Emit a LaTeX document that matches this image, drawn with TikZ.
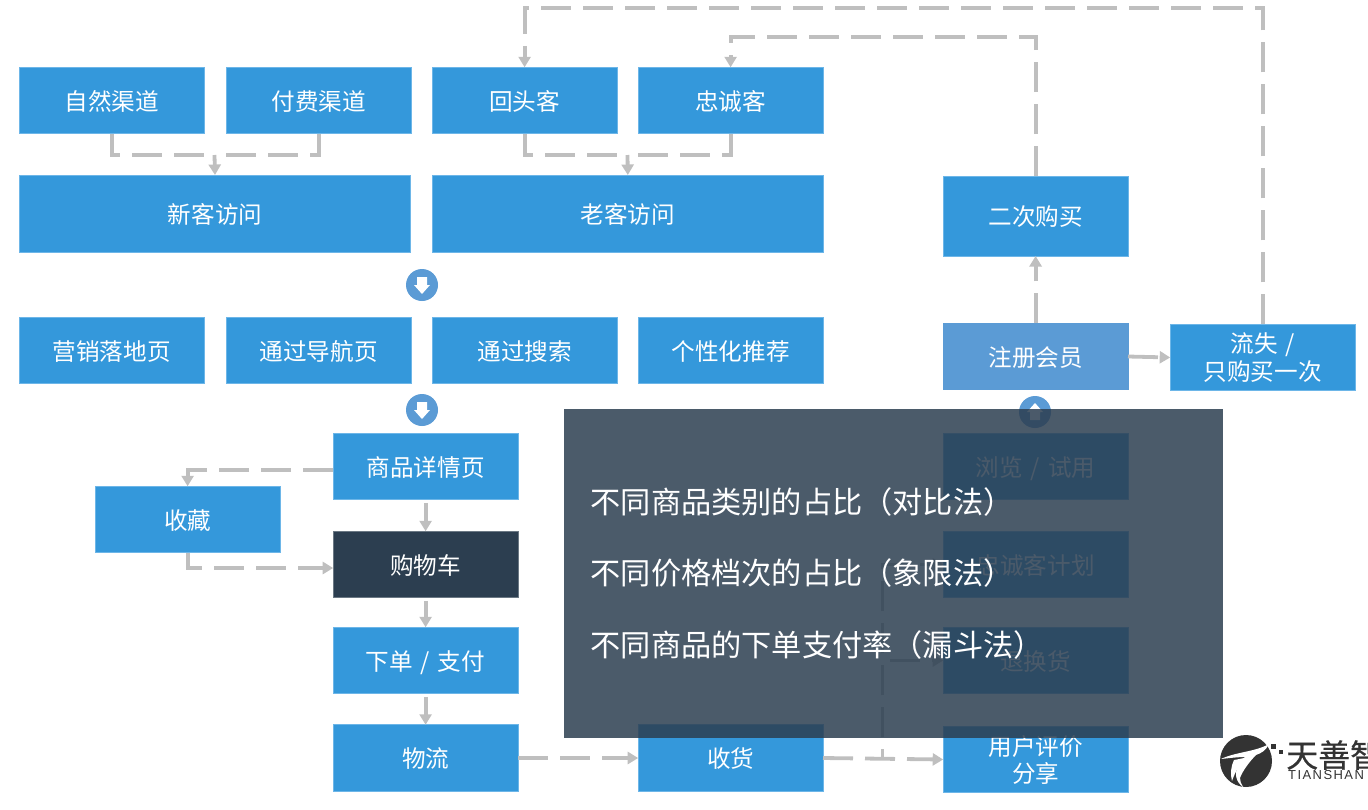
\documentclass[tikz,border=0pt]{standalone}
\usepackage{fontspec}
\setmainfont{Noto Sans CJK SC}
\newfontfamily\latinlogo[LetterSpace=11]{Liberation Sans}
\newfontfamily\logocjk[FakeBold=0.5]{Noto Sans CJK SC}
\usetikzlibrary{arrows.meta}
\definecolor{boxblue}{HTML}{3498DB}
\definecolor{boxedge}{HTML}{6DB6E8}
\definecolor{navy}{HTML}{2C3E50}
\definecolor{softblue}{HTML}{5B9BD5}
\definecolor{linegray}{HTML}{BFBFBF}
\definecolor{logoink}{HTML}{333333}
\tikzset{
  x=1pt,y=-1pt,
  box/.style={draw=boxedge,line width=.7pt,fill=boxblue,text=white,inner sep=0pt,outer sep=0pt,
    minimum width=184.8pt,minimum height=66.5pt,align=center,text height=22pt,text depth=2.2pt,
    font=\fontsize{23.6}{28}\selectfont},
  twolines/.style={text height=49pt,text depth=3pt},
  wide/.style={box,minimum width=391.5pt,minimum height=77pt},
  dark/.style={box,fill=navy,draw=navy!70},
  soft/.style={box,fill=softblue,draw=softblue},
  disc/.style={circle,fill=softblue,minimum size=32pt,inner sep=0pt,outer sep=0pt},
  veil/.style={fill=navy,fill opacity=.85,inner sep=0pt,outer sep=0pt,minimum width=659pt,minimum height=329pt},
  veiltext/.style={anchor=west,text=white,inner sep=0pt,font=\fontsize{30.2}{34}\selectfont},
  link/.style={draw=linegray,line width=3.8pt,dash pattern=on 30pt off 12pt,
    -{Triangle[length=10.5pt,width=12pt]}},
  plain link/.style={draw=linegray,line width=3.8pt,dash pattern=on 30pt off 12pt},
}
\newcommand{\sepslash}{\hspace{2.5pt} / \hspace{2.5pt}}
\begin{document}
\begin{tikzpicture}
\useasboundingbox (0,0) rectangle (1368,809);
\clip (0,0) rectangle (1368,809);

% row 1
\node[box] (zr) at (111.6,100.5) {自然渠道};
\node[box] (ff) at (318.6,100.5) {付费渠道};
\node[box] (ht) at (524.6,100.5) {回头客};
\node[box] (zc) at (730.6,100.5) {忠诚客};
% row 2
\node[wide] (xk) at (215,213.5) {新客访问};
\node[wide] (lk) at (627.8,213.5) {老客访问};
% row 3
\node[box] (yx) at (111.6,350.5) {营销落地页};
\node[box] (dh) at (318.6,350.5) {通过导航页};
\node[box] (ss) at (524.6,350.5) {通过搜索};
\node[box] (gx) at (730.6,350.5) {个性化推荐};
% central column
\node[box] (sp) at (425.6,466.5) {商品详情页};
\node[box] (sc) at (187.6,519.5) {收藏};
\node[dark] (gw) at (425.6,564.5) {购物车};
\node[box] (xd) at (425.6,660.5) {下单\sepslash 支付};
\node[box] (wl) at (425.6,758) {物流};
\node[box] (sh) at (730.6,758) {收货};
% right column
\node[box,twolines] (pj) at (1035.6,759.5) {用户评价\\[-1pt]分享};
\node[box] (th) at (1035.6,660.5) {退换货};
\node[box] (jh) at (1035.6,564.5) {忠诚客计划};
\node[box] (ll) at (1035.6,466.5) {浏览\sepslash 试用};
\node[soft] (zh) at (1035.6,356.5) {注册会员};
\node[box,minimum height=80pt] (ec) at (1035.6,216) {二次购买};
\node[box,twolines] (ls) at (1262.6,357.5) {流失\hspace{2.5pt} /\\只购买一次};

% discs
\node[disc] (d1) at (422,285) {};
\node[disc] (d2) at (422,410) {};
\node[disc] (d3) at (1035,412) {};
\fill[white] (417,277) -- (427,277) -- (427,285) -- (430,285) -- (422,294) -- (414,285) -- (417,285) -- cycle;
\fill[white] (417,402) -- (427,402) -- (427,410) -- (430,410) -- (422,419) -- (414,410) -- (417,410) -- cycle;
\fill[white] (1030,420) -- (1040,420) -- (1040,412) -- (1043,412) -- (1035,403) -- (1027,412) -- (1030,412) -- cycle;

% junctions and bends
\coordinate (m1) at (214.5,155);
\coordinate (m2) at (627.5,155);
\coordinate (top1) at (1262.5,8);
\coordinate (top2) at (1035.5,37);
\coordinate (fork) at (882.5,758);

\draw[plain link] (zr.south) |- (m1);
\draw[plain link] (ff.south) |- (m1);
\draw[link,solid] (m1) -- (xk.north);
\draw[plain link] (ht.south) |- (m2);
\draw[plain link] (zc.south) |- (m2);
\draw[link,solid] (m2) -- (lk.north);

\draw[link] (ls.north) |- (top1 -| ht.north) -- (ht.north);
\draw[link] (ec.north) |- (top2 -| zc.north) -- (zc.north);
\draw[link] (zh.north) -- (ec.south);
\draw[link] (zh.east) -- (ls.west);

\draw[link] ([yshift=-3.5pt]sp.west) -| (sc.north);
\draw[link] (sc.south) |- ([yshift=-3.5pt]gw.west);
\draw[link,solid,shorten <=3pt] (sp.south) -- (gw.north);
\draw[link,solid,shorten <=3pt] (gw.south) -- (xd.north);
\draw[link,solid,shorten <=3pt] (xd.south) -- (wl.north);
\draw[link] (wl.east) -- (sh.west);
\draw[link] (sh.east) -- (pj.west);
\draw[link,dash phase=21pt] (fork) |- (th.west);
\draw[link,dash phase=21pt] (fork) |- (jh.west);

% overlay panel
\node[veil] (panel) at (893.5,573.5) {};
\node[veiltext] (t1) at (590.5,502) {不同商品类别的占比（对比法）};
\node[veiltext] (t2) at (590.5,573) {不同价格档次的占比（象限法）};
\node[veiltext] (t3) at (590.5,645) {不同商品的下单支付率（漏斗法）};

% logo
\node[circle,fill=logoink,minimum size=52pt,inner sep=0pt] (logo) at (1246,761) {};
\fill[white] (1221,759) .. controls (1235,752) and (1255,752) .. (1269,744)
  .. controls (1266,750) and (1262,753) .. (1256,755)
  .. controls (1249,762) and (1242,772) .. (1240,778)
  .. controls (1240,781) and (1241,784) .. (1243,787)
  .. controls (1236,782) and (1234,774) .. (1238,766)
  .. controls (1240,762) and (1243,759) .. (1245,757)
  .. controls (1238,757) and (1230,758) .. (1221,759) -- cycle;
\fill[white] (1234,760) .. controls (1240,759) and (1243,758) .. (1245,758)
  .. controls (1240,764) and (1235,772) .. (1232,781)
  .. controls (1230,774) and (1231,766) .. (1234,760) -- cycle;
\fill[logoink] (1271,743.5) rectangle (1276,748.5);
\fill[logoink] (1278.5,750) rectangle (1282.5,754);
\node[anchor=west,inner sep=0pt,text=logoink,font=\logocjk\fontsize{32}{36}\selectfont] (lg1) at (1286,755) {天善智};
\node[anchor=west,inner sep=0pt,text=logoink,font=\latinlogo\fontsize{13}{15}\selectfont] (lg2) at (1288,775) {TIANSHAN};
\end{tikzpicture}
\end{document}
